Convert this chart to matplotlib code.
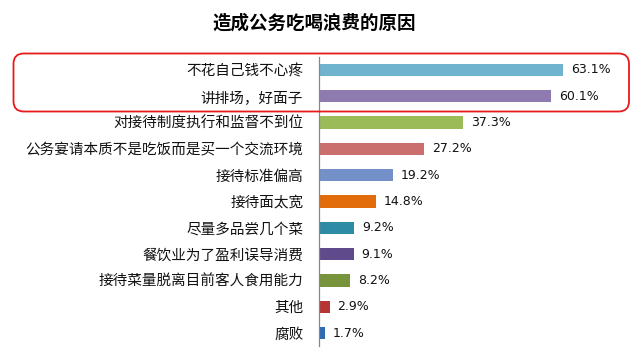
import matplotlib
matplotlib.use("Agg")
import matplotlib.pyplot as plt
from matplotlib.patches import FancyBboxPatch

plt.rcParams['font.family'] = ['Noto Sans CJK SC', 'DejaVu Sans']

categories = ["不花自己钱不心疼", "讲排场，好面子", "对接待制度执行和监督不到位",
              "公务宴请本质不是吃饭而是买一个交流环境", "接待标准偏高", "接待面太宽",
              "尽量多品尝几个菜", "餐饮业为了盈利误导消费", "接待菜量脱离目前客人食用能力",
              "其他", "腐败"]
values = [63.1, 60.1, 37.3, 27.2, 19.2, 14.8, 9.2, 9.1, 8.2, 2.9, 1.7]
value_labels = ["63.1%", "60.1%", "37.3%", "27.2%", "19.2%", "14.8%", "9.2%", "9.1%", "8.2%", "2.9%", "1.7%"]
colors = ["#6FB3CF", "#8E7BB0", "#9BBB59", "#CB6E6E", "#7390C9", "#E36C0A",
          "#2E8BA5", "#5F4A8B", "#77933C", "#B53532", "#2E6BB4"]
title = "造成公务吃喝浪费的原因"

W, H = 641, 353
fig = plt.figure(figsize=(W / 100, H / 100), dpi=100)
ax_left, ax_right = 318.5 / W, 630 / W
ax_top, ax_bot = 1 - 56.8 / H, 1 - 346.2 / H
ax = fig.add_axes([ax_left, ax_bot, ax_right - ax_left, ax_top - ax_bot])

ypos = list(range(len(categories)))
ax.barh(ypos, values, height=0.47, color=colors)
ax.set_xlim(0, 80.4)
ax.set_ylim(len(categories) - 0.5, -0.5)
ax.set_yticks(ypos)
ax.set_yticklabels(categories, fontsize=10.5, color="#111111")
ax.tick_params(axis='y', length=0, pad=11)
ax.set_xticks([])
for s in ["top", "right", "bottom"]:
    ax.spines[s].set_visible(False)
ax.spines["left"].set_color("#888888")
ax.spines["left"].set_linewidth(0.9)

for y, v, lab in zip(ypos, values, value_labels):
    ax.text(v + 2.0, y, lab, va="center", ha="left", fontsize=9, color="#111111",
            family=["DejaVu Sans"])

fig.text(314 / W, 1 - 23 / H, title, ha="center", va="center", fontsize=13.3,
         fontweight="bold", color="#000000")

box = FancyBboxPatch((13.5 / W, 1 - 111.5 / H), (629 - 13.5) / W, (111.5 - 53.5) / H,
                     boxstyle="round,pad=0,rounding_size=0.016",
                     transform=fig.transFigure, fill=False, edgecolor="#E8191B",
                     linewidth=1.3, mutation_aspect=W / H)
fig.patches.append(box)

fig.savefig("out.png", dpi=100, facecolor="white")
